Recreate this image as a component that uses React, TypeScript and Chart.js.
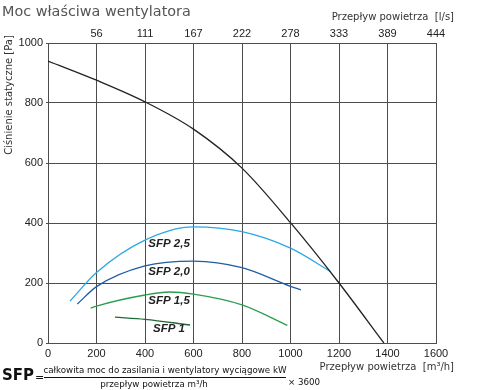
import React, { useEffect, useRef } from "react";
import { Chart, registerables } from "chart.js";

Chart.register(...registerables);

const xTicks = [0, 200, 400, 600, 800, 1000, 1200, 1400, 1600];
const topTickLabels = ["", "56", "111", "167", "222", "278", "333", "389", "444"];
const yTicks = [0, 200, 400, 600, 800, 1000];

const fanX = [0, 200, 400, 600, 800, 1000, 1200, 1385];
const fanY = [940, 876, 804, 713, 583, 401, 200, 0];

const sfp25X = [91, 200, 400, 600, 800, 1000, 1166];
const sfp25Y = [140, 235, 343, 387, 371, 316, 238];

const sfp20X = [121, 200, 400, 600, 800, 1000, 1043];
const sfp20Y = [130, 188, 257, 273, 251, 189, 177];

const sfp15X = [176, 200, 400, 500, 600, 800, 987];
const sfp15Y = [116, 123, 160, 170, 163, 127, 59];

const sfp10X = [276, 400, 586];
const sfp10Y = [86, 79, 60];

const sfpLabels = ["SFP 2,5", "SFP 2,0", "SFP 1,5", "SFP 1"];
const sfpLabelX = [499, 499, 499, 499];
const sfpLabelY = [330, 237, 140, 47];

const pts = (xs: number[], ys: number[]) => xs.map((x, i) => ({ x, y: ys[i] }));

export default function App() {
  const ref = useRef<HTMLCanvasElement | null>(null);
  useEffect(() => {
    document.body.style.margin = "0";
    const canvas = ref.current!;
    const textPlugin = {
      id: "texts",
      afterDraw(chart: any) {
        const ctx = chart.ctx as CanvasRenderingContext2D;
        const xs = chart.scales.x;
        const ys = chart.scales.y;
        ctx.save();
        // title
        ctx.fillStyle = "#555";
        ctx.font = "14.4px 'DejaVu Sans'";
        ctx.textAlign = "left";
        ctx.textBaseline = "alphabetic";
        ctx.fillText("Moc właściwa wentylatora", 2, 16);
        // axis titles
        ctx.fillStyle = "#333";
        ctx.font = "10px 'DejaVu Sans'";
        ctx.textAlign = "right";
        ctx.textBaseline = "middle";
        ctx.fillText("Przepływ powietrza  [l/s]", 454, 17);
        ctx.fillText("Przepływ powietrza  [m³/h]", 454, 367);
        ctx.save();
        ctx.translate(9, 95);
        ctx.rotate(-Math.PI / 2);
        ctx.textAlign = "center";
        ctx.fillText("Ciśnienie statyczne [Pa]", 0, 0);
        ctx.restore();
        // SFP labels
        ctx.fillStyle = "#222";
        ctx.font = "italic bold 11.5px 'Liberation Sans', Arial";
        ctx.textAlign = "center";
        ctx.textBaseline = "middle";
        sfpLabels.forEach((t, i) => {
          ctx.fillText(t, xs.getPixelForValue(sfpLabelX[i]), ys.getPixelForValue(sfpLabelY[i]));
        });
        // formula
        ctx.fillStyle = "#111";
        ctx.font = "bold 15px 'DejaVu Sans'";
        ctx.textAlign = "left";
        ctx.textBaseline = "middle";
        ctx.fillText("SFP", 2, 376);
        ctx.font = "11px 'DejaVu Sans'";
        ctx.fillText("=", 35, 378);
        ctx.font = "8.7px 'DejaVu Sans'";
        ctx.textAlign = "center";
        ctx.fillText("całkowita moc do zasilania i wentylatory wyciągowe kW", 165, 371);
        ctx.fillText("przepływ powietrza m³/h", 154, 385);
        ctx.strokeStyle = "#111";
        ctx.lineWidth = 1;
        ctx.beginPath();
        ctx.moveTo(44, 377.5);
        ctx.lineTo(286, 377.5);
        ctx.stroke();
        ctx.textAlign = "left";
        ctx.fillText("× 3600", 288, 383);
        ctx.restore();
      },
    };
    const line = (data: any, color: string, width: number) => ({
      data,
      borderColor: color,
      borderWidth: width,
      pointRadius: 0,
      fill: false,
      cubicInterpolationMode: "monotone" as const,
      xAxisID: "x",
      yAxisID: "y",
    });
    const tickFont = { family: "'Liberation Sans', Arial", size: 11 };
    const chart = new Chart(canvas, {
      type: "line",
      data: {
        datasets: [
          line(pts(fanX, fanY), "#222", 1.3),
          line(pts(sfp25X, sfp25Y), "#2aa8e2", 1.3),
          line(pts(sfp20X, sfp20Y), "#1f5ba6", 1.3),
          line(pts(sfp15X, sfp15Y), "#2a9e4c", 1.3),
          line(pts(sfp10X, sfp10Y), "#1d6a36", 1.3),
        ],
      },
      options: {
        animation: false,
        responsive: false,
        layout: { padding: { left: 0, right: 44, top: 0, bottom: 0 } },
        plugins: { legend: { display: false }, tooltip: { enabled: false } },
        scales: {
          x: {
            type: "linear",
            position: "bottom",
            min: 0,
            max: 1600,
            afterBuildTicks: (s: any) => { s.ticks = xTicks.map((v) => ({ value: v })); },
            afterFit: (s: any) => { s.height = 47; },
            grid: { color: "#4d4d4d", lineWidth: 1, tickLength: 0 },
            border: { color: "#4d4d4d" },
            ticks: { color: "#222", font: tickFont, padding: 4, maxRotation: 0, callback: (v: any) => String(v) },
          },
          x2: {
            type: "linear",
            position: "top",
            min: 0,
            max: 1600,
            afterBuildTicks: (s: any) => { s.ticks = xTicks.map((v) => ({ value: v })); },
            afterFit: (s: any) => { s.height = 43; },
            grid: { display: false, drawTicks: false, tickLength: 0 },
            border: { color: "#4d4d4d" },
            ticks: {
              color: "#222",
              font: tickFont,
              padding: 2,
              maxRotation: 0,
              callback: (v: any) => topTickLabels[xTicks.indexOf(Number(v))] ?? "",
            },
          },
          y: {
            type: "linear",
            min: 0,
            max: 1000,
            afterBuildTicks: (s: any) => { s.ticks = yTicks.map((v) => ({ value: v })); },
            afterFit: (s: any) => { s.width = 48; },
            grid: { color: "#4d4d4d", lineWidth: 1, tickLength: 2 },
            border: { color: "#4d4d4d" },
            ticks: { color: "#222", font: tickFont, padding: 3, callback: (v: any) => String(v) },
          },
        },
      },
      plugins: [textPlugin],
    });
    return () => chart.destroy();
  }, []);
  return <canvas ref={ref} width={480} height={390} style={{ display: "block" }} />;
}
